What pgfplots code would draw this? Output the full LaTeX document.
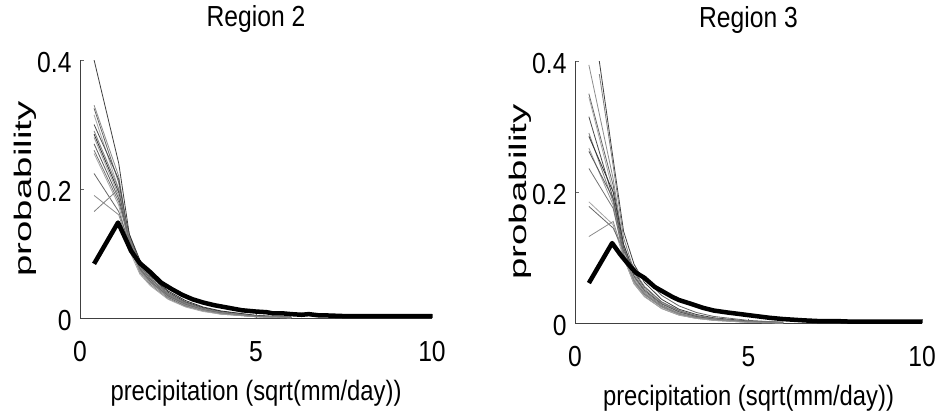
\documentclass[border=0pt]{standalone}
\usepackage{fontspec}
\setmainfont{Liberation Sans}
\newfontfamily\hfont[FakeStretch=0.85]{Liberation Sans}
\newfontfamily\vfont[FakeStretch=1.6]{Liberation Sans}
\usepackage{pgfplots}
\pgfplotsset{compat=1.18}
\usepackage{pgfplotstable}

% gray lines: one column per ensemble member
\pgfplotstableread{
x   g1    g2    g3    g4    g5    g6    g7    g8    g9    g10   g11   g12   g13   g14
0.4 0.400 0.330 0.325 0.315 0.300 0.290 0.285 0.280 0.270 0.260 0.255 0.224 0.190 0.165
1.1 0.240 0.220 0.210 0.200 0.215 0.200 0.195 0.190 0.185 0.180 0.175 0.165 0.160 0.200
1.4 0.130 0.120 0.125 0.110 0.120 0.115 0.130 0.110 0.125 0.120 0.105 0.115 0.110 0.125
1.7 0.085 0.080 0.085 0.078 0.075 0.070 0.090 0.072 0.082 0.078 0.068 0.076 0.074 0.083
2.0 0.065 0.060 0.062 0.058 0.055 0.052 0.066 0.054 0.060 0.057 0.050 0.056 0.055 0.061
2.5 0.040 0.036 0.038 0.034 0.032 0.030 0.042 0.033 0.037 0.035 0.029 0.034 0.033 0.037
3.0 0.025 0.022 0.024 0.021 0.019 0.018 0.027 0.020 0.023 0.021 0.017 0.021 0.020 0.023
3.5 0.016 0.014 0.015 0.013 0.012 0.011 0.017 0.012 0.014 0.013 0.010 0.013 0.012 0.014
4.0 0.010 0.009 0.009 0.008 0.007 0.006 0.011 0.007 0.008 0.008 0.006 0.008 0.007 0.009
5.0 0.004 0.003 0.003 0.003 0.002 0.002 0.004 0.002 0.003 0.003 0.002 0.003 0.002 0.003
6.0 0.001 0.001 0.001 0.001 0.001 0.000 0.001 0.001 0.001 0.001 0.000 0.001 0.001 0.001
}\regiontwo

\pgfplotstableread{
x   g1    g2    g3    g4    g5    g6    g7    g8    g9    g10   g11   g12   g13   g14
0.4 nan   0.394 0.350 0.345 0.315 0.290 0.285 0.267 0.262 0.236 0.185 0.178 0.132 nan
0.7 0.400 nan   nan   nan   nan   nan   nan   nan   nan   nan   nan   nan   nan   0.380
1.1 0.250 0.220 0.210 0.200 0.190 0.185 0.200 0.180 0.190 0.175 0.150 0.145 0.155 0.240
1.4 0.140 0.120 0.115 0.110 0.105 0.100 0.120 0.100 0.115 0.105 0.100 0.110 0.105 0.130
1.7 0.090 0.075 0.070 0.068 0.065 0.060 0.078 0.062 0.072 0.064 0.060 0.085 0.065 0.080
2.0 0.062 0.052 0.048 0.047 0.045 0.041 0.055 0.043 0.050 0.044 0.040 0.068 0.045 0.056
2.5 0.036 0.030 0.027 0.026 0.025 0.022 0.032 0.024 0.029 0.025 0.022 0.042 0.025 0.032
3.0 0.021 0.017 0.015 0.015 0.014 0.012 0.019 0.013 0.017 0.014 0.012 0.026 0.014 0.019
3.5 0.013 0.010 0.009 0.009 0.008 0.007 0.011 0.008 0.010 0.008 0.007 0.016 0.008 0.011
4.0 0.008 0.006 0.005 0.005 0.005 0.004 0.007 0.005 0.006 0.005 0.004 0.010 0.005 0.007
5.0 0.003 0.002 0.002 0.002 0.002 0.001 0.002 0.001 0.002 0.002 0.001 0.004 0.002 0.002
6.0 0.001 0.001 0.000 0.000 0.000 0.000 0.001 0.000 0.000 0.000 0.000 0.001 0.000 0.001
}\regionthree

\pgfplotsset{
  region/.style={
    scale only axis,
    xmin=0, xmax=10, ymin=0, ymax=0.4,
    axis x line=bottom, axis y line=left,
    axis line style={-, black!75, line width=0.8bp},
    xtick={0,5,10}, xticklabels={0,5,10},
    ytick={0,0.2,0.4}, yticklabels={0,0.2,0.4},
    tick align=inside, major tick length=4bp,
    tick style={black!60, line width=0.6bp},
    ticklabel style={font=\hfont\fontsize{29bp}{31bp}\selectfont},
    xticklabel style={anchor=center, yshift=-34bp},
    yticklabel style={anchor=east, xshift=-5bp, yshift=-3bp},
    title style={at={(axis description cs:0.5,1)}, anchor=base, yshift=28bp,
                 font=\hfont\fontsize{29bp}{31bp}\selectfont},
    xlabel style={at={(axis description cs:0.5,0)}, anchor=base, yshift=-82bp,
                  font=\hfont\fontsize{28bp}{30bp}\selectfont},
    ylabel style={at={(axis description cs:0,0.5)}, anchor=center, yshift=55bp,
                  font=\vfont\fontsize{24bp}{26bp}\selectfont},
    xlabel={precipitation (sqrt(mm/day))},
    ylabel={probability},
    cycle list={
      {black!75},{black!45},{black!60},{black!35},{black!70},{black!50},{black!80},
      {black!40},{black!65},{black!55},{black!35},{black!60},{black!45},{black!50}},
    every axis plot/.append style={no markers, line width=0.8bp},
  },
}

\begin{document}
\begin{tikzpicture}
\useasboundingbox (0,0) rectangle (937bp,-417bp);

\begin{axis}[region, at={(80bp,-318bp)}, anchor=south west,
    width=352bp, height=258bp, title={Region 2}]
\pgfplotsinvokeforeach{1,...,14}{
  \addplot+[] table[x=x, y=g#1] {\regiontwo};
}
\addplot[black, line width=4.5bp, line join=round] coordinates {
(0.4,0.084) (1.08,0.148) (1.25,0.128) (1.45,0.104) (1.7,0.085) (2.0,0.071)
(2.3,0.055) (2.6,0.045) (2.9,0.036) (3.2,0.029) (3.5,0.024) (3.8,0.020)
(4.2,0.016) (4.6,0.012) (5.0,0.010) (5.3,0.009) (5.5,0.007) (5.8,0.007)
(6.0,0.006) (6.3,0.005) (6.5,0.006) (6.8,0.004) (7.0,0.004) (7.5,0.003)
(8.0,0.003) (8.5,0.003) (9.0,0.003) (9.5,0.003) (10.0,0.003)
};
\end{axis}

\begin{axis}[region, at={(575bp,-323bp)}, anchor=south west,
    width=347bp, height=262bp, title={Region 3}]
\pgfplotsinvokeforeach{1,...,14}{
  \addplot+[] table[x=x, y=g#1] {\regionthree};
}
\addplot[black, line width=4.5bp, line join=round] coordinates {
(0.4,0.061) (1.07,0.122) (1.3,0.105) (1.5,0.092) (1.75,0.077) (2.0,0.069)
(2.3,0.055) (2.6,0.046) (2.8,0.040) (3.0,0.035) (3.3,0.030) (3.7,0.023)
(4.0,0.019) (4.4,0.016) (4.7,0.014) (5.0,0.012) (5.3,0.010) (5.6,0.008)
(6.0,0.006) (6.3,0.005) (6.6,0.004) (7.0,0.003) (7.5,0.003) (8.0,0.002)
(8.5,0.002) (9.0,0.002) (9.5,0.002) (10.0,0.002)
};
\end{axis}
\end{tikzpicture}
\end{document}
